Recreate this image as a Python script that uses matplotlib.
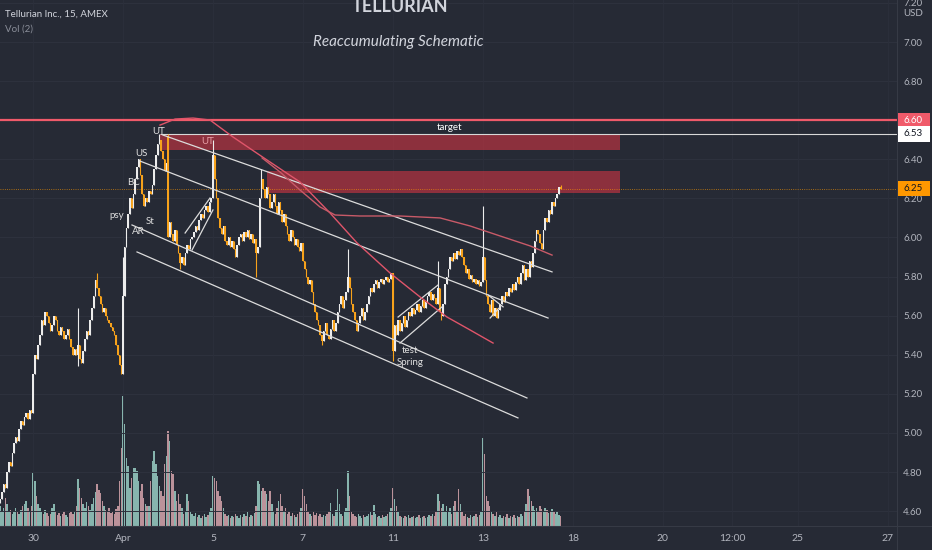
import numpy as np
import matplotlib.pyplot as plt
import matplotlib.transforms as mtransforms
from matplotlib.patches import Rectangle

# ---- data: TLNR 15 min bars, Mar 29 (partial) .. Apr 14 ----
mar29 = [4.66, 4.70, 4.74, 4.72, 4.80, 4.85, 4.83, 4.90, 4.95, 4.98, 4.96, 5.02, 5.06, 5.04, 5.08, 5.10, 5.07, 5.12, 5.10]
mar30 = [5.30, 5.40, 5.38, 5.45, 5.50, 5.58, 5.55, 5.62, 5.60, 5.56, 5.52, 5.55, 5.60, 5.58, 5.52, 5.50, 5.54, 5.52, 5.48, 5.50, 5.53, 5.48, 5.44, 5.40, 5.43, 5.40]
mar31 = [5.45, 5.38, 5.36, 5.42, 5.48, 5.52, 5.50, 5.58, 5.64, 5.70, 5.78, 5.74, 5.70, 5.66, 5.62, 5.64, 5.60, 5.58, 5.56, 5.54, 5.52, 5.50, 5.45, 5.40, 5.35, 5.30]
apr01 = [5.70, 5.95, 6.05, 6.12, 6.20, 6.15, 6.22, 6.30, 6.36, 6.40, 6.32, 6.22, 6.16, 6.20, 6.18, 6.24, 6.22, 6.27, 6.35, 6.42, 6.48, 6.50, 6.44, 6.40, 6.34, 6.38]
apr04 = [6.00, 6.08, 6.02, 5.98, 6.04, 5.96, 5.92, 5.87, 5.90, 5.86, 5.92, 5.96, 5.94, 5.99, 6.00, 6.03, 6.06, 6.04, 6.09, 6.12, 6.10, 6.14, 6.16, 6.13, 6.18, 6.20]
apr05 = [6.42, 6.30, 6.20, 6.10, 6.05, 6.02, 6.06, 5.98, 5.96, 6.00, 5.95, 5.98, 5.94, 5.90, 5.96, 6.00, 6.02, 5.98, 6.03, 6.00, 6.04, 5.99, 6.02, 5.97, 5.99, 5.92]
apr06 = [5.95, 6.20, 6.30, 6.25, 6.20, 6.26, 6.22, 6.15, 6.18, 6.22, 6.16, 6.12, 6.18, 6.14, 6.08, 6.12, 6.06, 6.02, 5.98, 6.04, 6.00, 5.96, 5.99, 5.95, 5.93, 5.97]
apr07 = [5.88, 5.84, 5.80, 5.76, 5.78, 5.72, 5.66, 5.62, 5.58, 5.55, 5.50, 5.47, 5.52, 5.56, 5.50, 5.48, 5.53, 5.58, 5.52, 5.56, 5.62, 5.66, 5.70, 5.64, 5.68, 5.72]
apr08 = [5.80, 5.74, 5.66, 5.62, 5.58, 5.52, 5.56, 5.60, 5.64, 5.58, 5.62, 5.66, 5.70, 5.74, 5.72, 5.76, 5.78, 5.74, 5.77, 5.79, 5.76, 5.78, 5.80, 5.77, 5.79, 5.82]
apr11 = [5.42, 5.55, 5.50, 5.58, 5.52, 5.56, 5.60, 5.54, 5.58, 5.62, 5.60, 5.64, 5.61, 5.63, 5.66, 5.62, 5.65, 5.68, 5.64, 5.67, 5.70, 5.72, 5.68, 5.71, 5.69, 5.66]
apr12 = [5.74, 5.62, 5.60, 5.66, 5.76, 5.80, 5.84, 5.90, 5.88, 5.92, 5.89, 5.93, 5.91, 5.94, 5.90, 5.86, 5.82, 5.84, 5.79, 5.81, 5.77, 5.79, 5.76, 5.78, 5.75, 5.77]
apr13 = [5.90, 5.78, 5.70, 5.66, 5.62, 5.68, 5.60, 5.64, 5.59, 5.63, 5.66, 5.70, 5.67, 5.72, 5.70, 5.74, 5.72, 5.76, 5.73, 5.77, 5.80, 5.76, 5.82, 5.86, 5.78, 5.84]
apr14 = [5.80, 5.88, 5.85, 5.92, 5.98, 6.04, 6.02, 5.97, 5.94, 6.04, 6.10, 6.08, 6.14, 6.12, 6.18, 6.16, 6.20, 6.22, 6.26, 6.25]

vol_mar29 = [20, 15, 18, 28, 22, 14, 16, 12, 15, 18, 14, 12, 16, 20, 22, 25, 18, 15, 20]
vol_mar30 = [53, 45, 30, 22, 18, 14, 12, 16, 13, 10, 12, 18, 22, 15, 11, 13, 10, 12, 15, 11, 9, 13, 14, 12, 15, 20]
vol_mar31 = [47, 38, 28, 22, 18, 24, 20, 16, 22, 28, 34, 42, 36, 33, 25, 20, 16, 14, 18, 13, 15, 12, 17, 20, 45, 78]
vol_apr01 = [130, 102, 68, 60, 38, 48, 58, 58, 55, 45, 35, 42, 28, 22, 20, 20, 45, 65, 75, 62, 50, 40, 35, 30, 62, 70]
vol_apr04 = [95, 85, 55, 52, 35, 25, 32, 22, 18, 12, 15, 32, 25, 15, 12, 10, 13, 9, 11, 8, 10, 12, 9, 11, 14, 18]
vol_apr05 = [50, 48, 45, 35, 30, 25, 18, 12, 10, 11, 8, 10, 9, 12, 10, 8, 11, 9, 12, 10, 14, 9, 11, 10, 13, 20]
vol_apr06 = [45, 42, 35, 38, 35, 32, 25, 35, 22, 15, 12, 18, 25, 32, 20, 15, 18, 12, 14, 10, 13, 11, 9, 12, 15, 18]
vol_apr07 = [37, 30, 22, 15, 12, 10, 14, 11, 13, 10, 12, 9, 11, 10, 12, 15, 23, 12, 10, 16, 37, 22, 12, 10, 14, 18]
vol_apr08 = [55, 30, 15, 12, 10, 9, 12, 10, 8, 11, 9, 10, 12, 14, 11, 21, 12, 9, 10, 8, 11, 9, 10, 12, 14, 18]
vol_apr11 = [38, 27, 20, 14, 10, 9, 8, 10, 9, 11, 8, 9, 10, 8, 9, 11, 8, 9, 10, 8, 9, 11, 10, 12, 10, 14]
vol_apr12 = [32, 25, 18, 22, 15, 20, 14, 18, 12, 20, 25, 15, 37, 22, 14, 10, 12, 9, 8, 11, 9, 10, 12, 9, 11, 14]
vol_apr13 = [88, 72, 30, 25, 20, 15, 12, 10, 14, 9, 11, 8, 10, 9, 12, 8, 10, 9, 11, 8, 10, 9, 12, 10, 15, 22]
vol_apr14 = [37, 30, 25, 20, 16, 18, 15, 20, 17, 14, 18, 16, 13, 15, 17, 14, 12, 15, 11, 10]

# opening gaps and visible wicks: bar index -> price
open_gaps = {78: 6.52}
wick_high = {26: 5.64, 37: 5.82, 52: 5.90, 73: 6.53, 78: 6.53, 104: 6.50, 132: 6.35, 182: 5.94,
             234: 5.88, 260: 6.16, 305: 6.27}
wick_low = {26: 5.34, 52: 5.30, 85: 5.84, 129: 5.80, 167: 5.45, 208: 5.37, 236: 5.58}

x_ticks = ['30', 'Apr', '5', '7', '11', '13', '18', '20', '12:00', '25', '27']
x_tick_pos = [0, 52, 104, 156, 208, 260, 312, 364, 404, 442, 494]

# annotation drawings (bar index, price)
channel_lines = [((75.1, 6.524), (300.0, 5.824)),
                 ((61.8, 6.391), (297.7, 5.588)),
                 ((57.2, 6.064), (285.5, 5.179)),
                 ((60.1, 5.926), (280.3, 5.077)),
                 ((87.9, 6.023), (102.3, 6.202)),
                 ((91.9, 5.936), (104.0, 6.141)),
                 ((211.0, 5.593), (234.1, 5.757)),
                 ((212.1, 5.460), (236.4, 5.645)),
                 ((263.0, 5.706), (271.7, 5.645)),
                 ((264.2, 5.588), (270.0, 5.645))]
curve1_x = [73.4, 82.1, 92.5, 102.3, 115.6, 135.3, 154.3, 171.7, 187.3, 206.4, 223.7, 239.3, 252.6, 265.9]
curve1_y = [6.575, 6.606, 6.611, 6.601, 6.514, 6.396, 6.284, 6.125, 5.972, 5.818, 5.696, 5.593, 5.527, 5.460]
curve2_x = [132.4, 142.8, 154.3, 165.9, 174.6, 189.0, 212.1, 235.3, 252.6, 269.9, 287.3, 300.0]
curve2_y = [6.407, 6.335, 6.243, 6.156, 6.115, 6.110, 6.110, 6.100, 6.059, 6.008, 5.957, 5.910]
wyckoff_labels = [('UT', 72.8, 6.54, '#e0e0e0'), ('UT', 101.2, 6.49, '#e8a0a8'), ('US', 62.4, 6.43, '#e0e0e0'),
                  ('BC', 57.8, 6.28, '#e0e0e0'), ('psy', 48.6, 6.11, '#e0e0e0'), ('St', 67.6, 6.08, '#e0e0e0'),
                  ('AR', 60.7, 6.03, '#e0e0e0'), ('test', 217.9, 5.42, '#e0e0e0'), ('Spring', 217.9, 5.36, '#e0e0e0')]

closes = np.array(mar29 + mar30 + mar31 + apr01 + apr04 + apr05 + apr06 + apr07 + apr08 + apr11 + apr12 + apr13 + apr14)
vols = np.array(vol_mar29 + vol_mar30 + vol_mar31 + vol_apr01 + vol_apr04 + vol_apr05 + vol_apr06 + vol_apr07
                + vol_apr08 + vol_apr11 + vol_apr12 + vol_apr13 + vol_apr14)
idx = np.arange(-19, -19 + len(closes))
opens = np.concatenate([[closes[0] - 0.02], closes[:-1]])
for k, v in open_gaps.items():
    opens[k + 19] = v
highs = np.maximum(opens, closes)
lows = np.minimum(opens, closes)
for k, v in wick_high.items():
    highs[k + 19] = v
for k, v in wick_low.items():
    lows[k + 19] = v

bg = '#262a35'
txt = '#b2b5be'
up_col, dn_col = '#ececec', '#f7a21b'

plt.rcParams['font.family'] = ['Lato', 'DejaVu Sans']
fig = plt.figure(figsize=(9.32, 5.5), dpi=100)
fig.patch.set_facecolor(bg)
rect = [0, 24 / 550, 897 / 932, 526 / 550]

# volume underneath
axv = fig.add_axes(rect)
axv.set_facecolor(bg)
vcol = np.where(closes >= opens, '#93c5bc', '#cc9ea6')
axv.bar(idx, vols, width=0.85, color=vcol, alpha=0.9, linewidth=0)
axv.set_xlim(-19.1, 499.4)
axv.set_ylim(0, 526)
axv.axis('off')

ax = fig.add_axes(rect)
ax.set_facecolor('none')
ax.set_xlim(-19.1, 499.4)
ax.set_ylim(4.524, 7.215)
for s in ax.spines.values():
    s.set_visible(False)

yt = [4.6, 4.8, 5.0, 5.2, 5.4, 5.6, 5.8, 6.0, 6.2, 6.4, 6.8, 7.0, 7.2]
for y in yt:
    ax.axhline(y, color='#2e323e', lw=0.7, zorder=0)
for x in x_tick_pos:
    ax.axvline(x, color='#2b2f3b', lw=0.7, zorder=0)
ax.yaxis.tick_right()
ax.set_yticks(yt)
ax.set_yticklabels(['%.2f' % y for y in yt])
ax.set_xticks(x_tick_pos)
ax.set_xticklabels(x_ticks)
ax.tick_params(axis='y', length=0, pad=4.5, labelsize=7, labelcolor=txt)
ax.tick_params(axis='x', length=0, pad=6, labelsize=7.5, labelcolor=txt)

# zones
ax.add_patch(Rectangle((73.4, 6.45), 339.3 - 73.4, 0.08, fc='#f23645', alpha=0.5, lw=0, zorder=1))
ax.add_patch(Rectangle((135.3, 6.23), 339.3 - 135.3, 0.11, fc='#f23645', alpha=0.5, lw=0, zorder=1))
ax.axhline(6.60, color='#f05a6a', lw=1.6, zorder=2)
ax.hlines(6.53, 73.4, 499.4, color='#d8d8d8', lw=0.8, zorder=2)
ax.axhline(6.25, color='#ff9800', lw=0.6, ls=':', alpha=0.8, zorder=2)
ax.text(240.5, 6.565, 'target', color='#ffffff', fontsize=7, ha='center', va='center', zorder=5)

# candles
col = np.where(closes >= opens, up_col, dn_col)
ax.vlines(idx, lows, highs, colors=col, lw=0.8, zorder=3)
body = np.maximum(np.abs(closes - opens), 0.006)
ax.bar(idx, body, bottom=np.minimum(opens, closes), width=0.85, color=col, linewidth=0, zorder=4)

# drawings
for (x0, y0), (x1, y1) in channel_lines:
    ax.plot([x0, x1], [y0, y1], color='#dcdcdc', lw=0.9, zorder=5)
ax.plot(curve1_x, curve1_y, color='#e0556a', lw=1.0, zorder=5)
ax.plot(curve2_x, curve2_y, color='#c85a68', lw=1.0, zorder=5)
for t, x, y, c in wyckoff_labels:
    ax.text(x, y, t, color=c, fontsize=7, ha='center', va='center', zorder=6)

# price tags on the scale
blend = mtransforms.blended_transform_factory(fig.transFigure, ax.transData)
for p, fc, tc in [(6.60, '#f05a6a', '#ffffff'), (6.53, '#ffffff', '#131722'), (6.25, '#ff9800', '#131722')]:
    fig.add_artist(Rectangle((898 / 932, p - 0.039), 32 / 932, 0.078, transform=blend, fc=fc, ec='none', zorder=10))
    fig.text(913 / 932, p, '%.2f' % p, transform=blend, color=tc, fontsize=7, ha='center', va='center', zorder=11)

# separators
fig.add_artist(plt.Line2D([897 / 932, 897 / 932], [0, 1], color='#363a45', lw=0.8))
fig.add_artist(plt.Line2D([0, 1], [24 / 550, 24 / 550], color='#363a45', lw=0.8))

# header texts
fig.text(5 / 932, 1 - 14 / 550, 'Tellurian Inc., 15, AMEX', color='#d1d4dc', fontsize=7, va='center')
fig.text(5 / 932, 1 - 29 / 550, 'Vol (2)', color='#8a8e99', fontsize=7, va='center')
fig.text(400 / 932, 1 - 7 / 550, 'TELLURIAN', color='#d1d4dc', fontsize=13, fontweight='bold', ha='center', va='center')
fig.text(398 / 932, 1 - 42 / 550, 'Reaccumulating Schematic', color='#d1d4dc', fontsize=11, style='italic',
         ha='center', va='center')
fig.text(913 / 932, 1 - 13 / 550, 'USD', color=txt, fontsize=7, ha='center', va='center')

fig.savefig('out.png', dpi=100, facecolor=bg)
